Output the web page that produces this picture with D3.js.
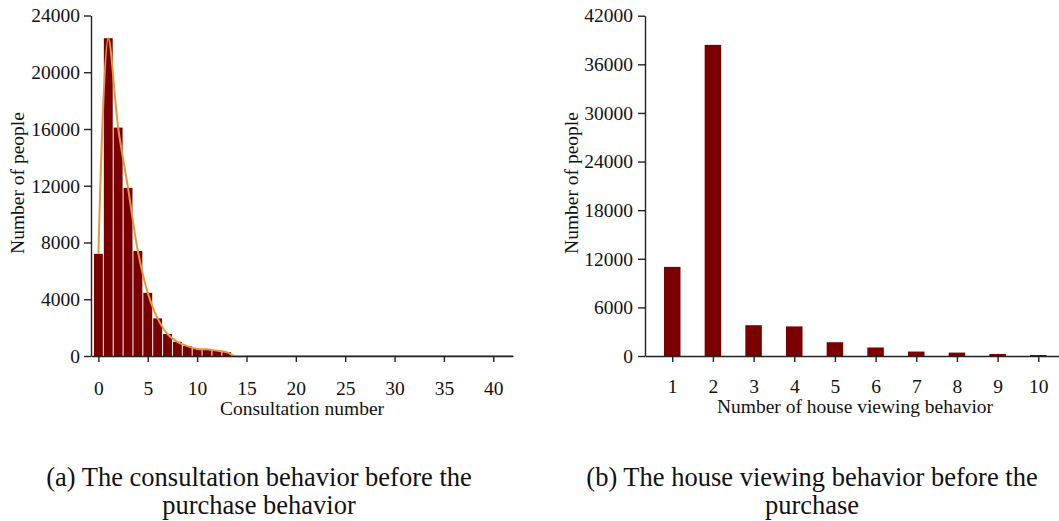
<!DOCTYPE html>
<html>
<head>
<meta charset="utf-8">
<script src="https://cdn.jsdelivr.net/npm/d3@7"></script>
<style>
  html, body { margin: 0; padding: 0; background: #fff; }
  svg { display: block; }
  text { font-family: "Liberation Serif", "Times New Roman", serif; fill: #111; }
</style>
</head>
<body>
<svg id="chart" width="1059" height="521"></svg>
<script>
// (a) consultation counts before purchase
const consultCounts = [0, 1, 2, 3, 4, 5, 6, 7, 8, 9, 10, 11, 12, 13];
const consultPeople = [7200, 22400, 16100, 11850, 7400, 4450, 2650, 1550, 1000, 700, 500, 470, 380, 270];
// fitted distribution curve
const curveX = [0, 1, 2, 3, 4, 5, 6, 7, 8, 9, 10, 11, 12, 13, 13.8, 15, 20, 25, 30, 35, 40, 42];
const curveY = [7200, 22400, 16100, 11850, 7400, 4450, 2650, 1550, 1000, 700, 500, 470, 380, 270, 0, 0, 0, 0, 0, 0, 0, 0];
const consultXTicks = [0, 5, 10, 15, 20, 25, 30, 35, 40];
const consultYTicks = [0, 4000, 8000, 12000, 16000, 20000, 24000];

// (b) house viewing counts before purchase
const viewCounts = [1, 2, 3, 4, 5, 6, 7, 8, 9, 10];
const viewPeople = [11000, 38400, 3800, 3650, 1700, 1050, 550, 420, 250, 120];
const viewYTicks = [0, 6000, 12000, 18000, 24000, 30000, 36000, 42000];

const captions = {
  a: ["(a) The consultation behavior before the", "purchase behavior"],
  b: ["(b) The house viewing behavior before the", "purchase"]
};

const barColor = "#7a0000";
const curveColor = "#e39a3e";
const axisColor = "#222";
const fontStack = "'Liberation Serif', 'Times New Roman', serif";
const labelSize = "19.5px";
const captionSize = "26.5px";

const svg = d3.select("#chart");

function styleAxis(g) {
  g.selectAll("path.domain").attr("stroke", axisColor).attr("stroke-width", 1.4);
  g.selectAll(".tick line").attr("stroke", axisColor).attr("stroke-width", 1.4);
  g.selectAll(".tick text").style("font-size", labelSize).attr("fill", "#111")
    .style("font-family", fontStack);
}

function addText(x, y, size, str, transform) {
  const t = svg.append("text").attr("text-anchor", "middle")
    .style("font-family", fontStack).style("font-size", size).text(str);
  if (transform) t.attr("transform", transform);
  else t.attr("x", x).attr("y", y);
  return t;
}

// ---------- panel (a) ----------
{
  const x = d3.scaleLinear().domain([-0.75, 42]).range([91, 513]);
  const y = d3.scaleLinear().domain([0, 24000]).range([356, 15.5]);
  const unit = x(1) - x(0);
  const bw = unit * 0.9;

  svg.append("g").selectAll("rect").data(consultCounts).join("rect")
    .attr("x", d => x(d) - bw / 2)
    .attr("width", bw)
    .attr("y", (d, i) => y(consultPeople[i]))
    .attr("height", (d, i) => y(0) - y(consultPeople[i]))
    .attr("fill", barColor);

  const line = d3.line()
    .x(d => x(d[0])).y(d => y(d[1]))
    .curve(d3.curveCatmullRom.alpha(0.5));
  svg.append("path")
    .datum(curveX.map((v, i) => [v, curveY[i]]))
    .attr("d", line)
    .attr("fill", "none")
    .attr("stroke", curveColor)
    .attr("stroke-width", 2);

  const gx = svg.append("g").attr("transform", `translate(0,${y(0)})`)
    .call(d3.axisBottom(x).tickValues(consultXTicks).tickFormat(d3.format("d"))
      .tickSize(6).tickSizeOuter(0).tickPadding(19));
  styleAxis(gx);

  const gy = svg.append("g").attr("transform", `translate(${x.range()[0]},0)`)
    .call(d3.axisLeft(y).tickValues(consultYTicks).tickFormat(d3.format("d"))
      .tickSize(7).tickSizeOuter(0).tickPadding(4));
  styleAxis(gy);

  addText(302, 415, labelSize, "Consultation number");
  addText(0, 0, labelSize, "Number of people", "translate(24,183) rotate(-90)");
  addText(259, 486, captionSize, captions.a[0]);
  addText(259, 514, captionSize, captions.a[1]);
}

// ---------- panel (b) ----------
{
  const x = d3.scaleLinear().domain([0.33, 10.51]).range([645, 1059]);
  const y = d3.scaleLinear().domain([0, 42000]).range([356, 15.7]);
  const bw = 16.5;

  svg.append("g").selectAll("rect").data(viewCounts).join("rect")
    .attr("x", d => x(d) - bw / 2)
    .attr("width", bw)
    .attr("y", (d, i) => y(viewPeople[i]))
    .attr("height", (d, i) => y(0) - y(viewPeople[i]))
    .attr("fill", barColor);

  const gx = svg.append("g").attr("transform", `translate(0,${y(0)})`)
    .call(d3.axisBottom(x).tickValues(viewCounts).tickFormat(d3.format("d"))
      .tickSize(6).tickSizeOuter(0).tickPadding(17));
  styleAxis(gx);

  const gy = svg.append("g").attr("transform", `translate(${x.range()[0]},0)`)
    .call(d3.axisLeft(y).tickValues(viewYTicks).tickFormat(d3.format("d"))
      .tickSize(7).tickSizeOuter(0).tickPadding(5));
  styleAxis(gy);

  addText(855, 413, labelSize, "Number of house viewing behavior");
  addText(0, 0, labelSize, "Number of people", "translate(578,183) rotate(-90)");
  addText(812, 486, captionSize, captions.b[0]);
  addText(812, 514, captionSize, captions.b[1]);
}
</script>
</body>
</html>
